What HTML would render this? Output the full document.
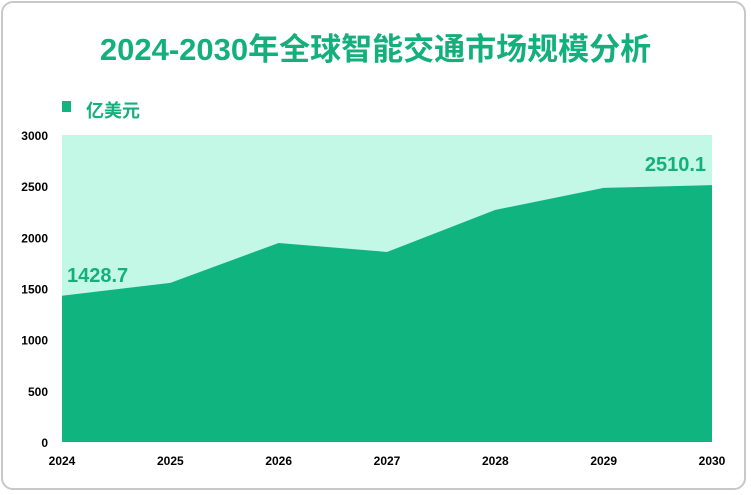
<!DOCTYPE html>
<html><head><meta charset="utf-8"><style>
body{margin:0;background:#fff;}
.wrap{position:relative;width:751px;height:495px;overflow:hidden;}
.frame{position:absolute;left:1px;top:1px;width:745px;height:489px;border:2px solid #c8c8c8;border-radius:12px;box-sizing:border-box;}
.title{position:absolute;left:0;width:751px;top:24px;text-align:center;font:bold 31px "Liberation Sans","Noto Sans CJK SC",sans-serif;color:#14b07c;}
svg text{font-family:"Liberation Sans","Noto Sans CJK SC",sans-serif;}
</style></head><body>
<div class="wrap">
<div class="frame"></div>
<div class="title">2024-2030年全球智能交通市场规模分析</div>
<svg id="svg" width="751" height="495" style="position:absolute;left:0;top:0">
<rect x="62" y="101" width="9" height="11" fill="#10b47f"/>
<text x="86" y="117" font-size="18" font-weight="bold" fill="#14b07c">亿美元</text>
</svg>
</div>
<script>
const years=["2024","2025","2026","2027","2028","2029","2030"];
const values=[1428.7,1555,1945,1857,2268,2483,2510.1];
const yTicks=[0,500,1000,1500,2000,2500,3000];
const labels=[{i:0,t:"1428.7"},{i:6,t:"2510.1"}];
const svg=document.getElementById('svg');
const NS='http://www.w3.org/2000/svg';
const x0=62,x1=712,yTop=135,yBot=442,yMax=3000;
const xs=i=>x0+(x1-x0)*i/(years.length-1);
const ys=v=>yBot-(yBot-yTop)*v/yMax;
function mk(t,a){const e=document.createElementNS(NS,t);for(const k in a)e.setAttribute(k,a[k]);svg.appendChild(e);return e;}
const bg=mk('rect',{x:x0,y:yTop,width:x1-x0,height:yBot-yTop,fill:'#c3f7e6'});


let d='M'+x0+','+yBot;
values.forEach((v,i)=>{d+=' L'+xs(i)+','+ys(v);});
d+=' L'+x1+','+yBot+' Z';
const area=mk('path',{d:d,fill:'#10b47f'});


yTicks.forEach(v=>{const t=mk('text',{x:48,y:ys(v)+5,'font-size':12,'font-weight':'bold','text-anchor':'end',fill:'#000'});t.textContent=v;

});
years.forEach((y,i)=>{const t=mk('text',{x:xs(i),y:465,'font-size':12,'font-weight':'bold','text-anchor':'middle',fill:'#000'});t.textContent=y;

});
labels.forEach(l=>{const i=l.i;const t=mk('text',{x:i===0?xs(i)+5:xs(i)-6,y:ys(values[i])-14,'font-size':20,'font-weight':'bold','text-anchor':i===0?'start':'end',fill:'#14b07c'});t.textContent=l.t;

});
</script>
</body></html>
